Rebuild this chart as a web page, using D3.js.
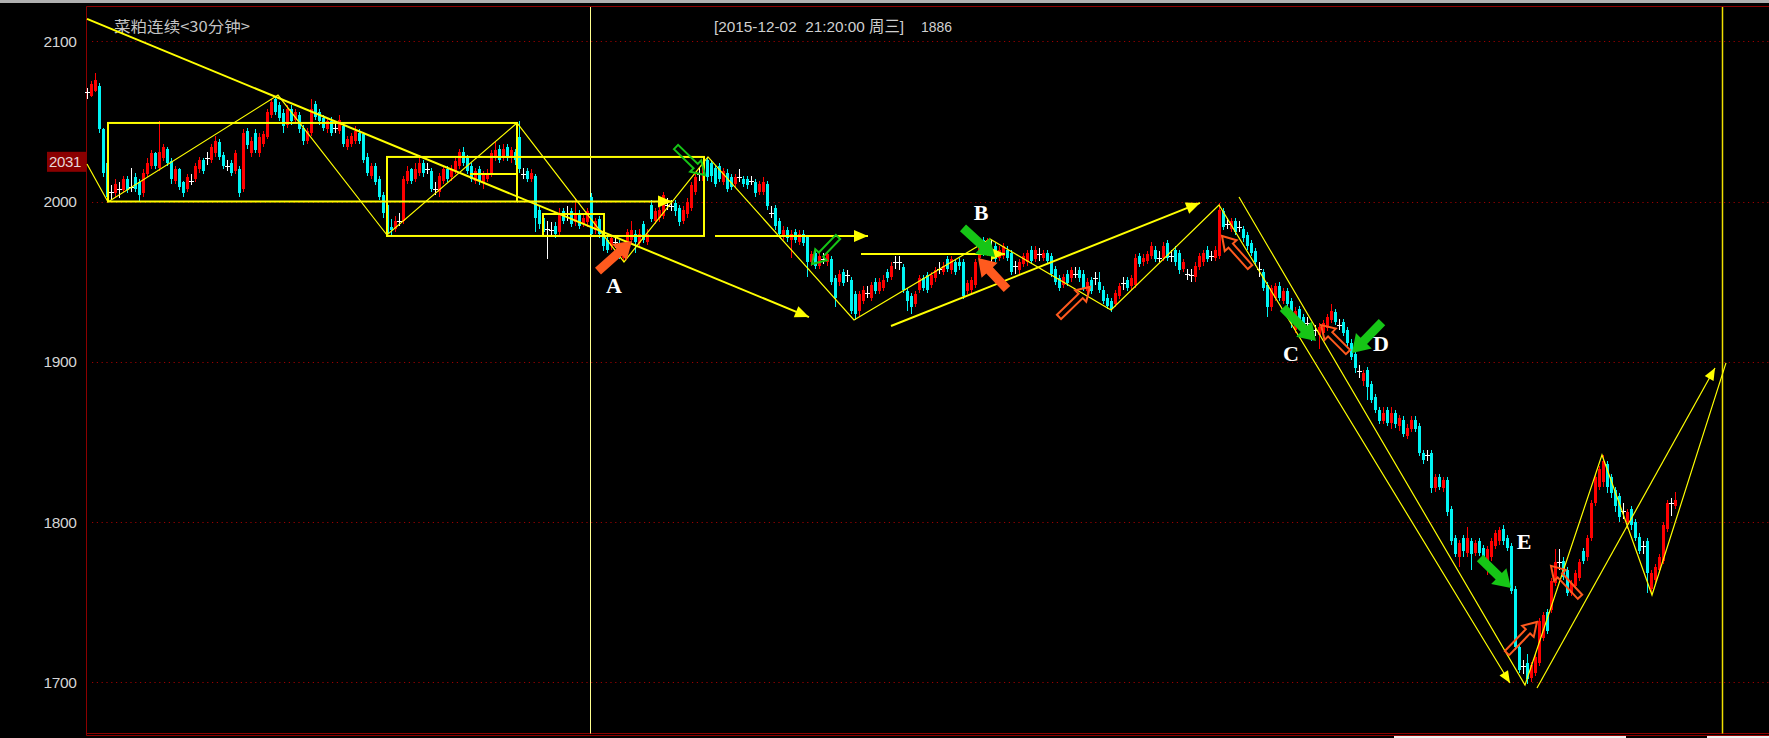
<!DOCTYPE html>
<html><head><meta charset="utf-8">
<script src="https://cdn.jsdelivr.net/npm/d3@7"></script>
<style>html,body{margin:0;padding:0;background:#000;overflow:hidden}</style>
</head><body><svg id="c" width="1769" height="738"></svg>
<script>
// ---------------- DATA ----------------
const opens=[
2068,2066,2069,2072,2045,2024,2006,2005,2008,2007,
2014,2009,2015,2012,2005,2017,2022,2030,2021,2027,
2033,2025,2013,2020,2012,2008,2013,2014,2020,2026,
2027,2026,2030,2037,2029,2022,2024,2019,2020,2008,
2044,2030,2043,2030,2036,2040,2054,2064,2060,2055,
2048,2058,2051,2054,2046,2038,2043,2061,2056,2052,
2045,2050,2046,2044,2047,2034,2036,2038,2043,2042,
2028,2016,2022,2014,2004,1998,1984,1983,1988,1988,
2013,2020,2014,2018,2024,2020,2019,2008,2006,2013,
2020,2015,2019,2022,2031,2027,2022,2013,2020,2012,
2014,2017,2027,2033,2027,2034,2027,2031,2040,2017,
2019,2014,2016,1995,1990,1983,1982,1985,1981,1994,
1992,1994,1987,1993,1986,1987,2003,1982,1989,1981,
1976,1972,1975,1974,1965,1970,1976,1980,1974,1986,
1975,1998,1988,1990,1991,1998,1997,1999,1996,1988,
1992,1996,2006,2017,2013,2026,2024,2021,2022,2012,
2018,2015,2011,2015,2014,2014,2013,2012,2006,2006,
2011,1993,1996,1988,1978,1982,1976,1981,1975,1980,
1978,1962,1968,1960,1964,1962,1964,1952,1950,1956,
1954,1951,1942,1932,1938,1943,1940,1950,1944,1946,
1956,1953,1962,1962,1959,1944,1941,1936,1945,1952,
1954,1948,1952,1958,1956,1964,1957,1962,1962,1962,
1944,1945,1948,1965,1976,1968,1970,1972,1965,1966,
1970,1968,1960,1957,1961,1962,1970,1964,1967,1965,
1968,1966,1958,1952,1948,1955,1952,1955,1957,1955,
1944,1951,1952,1950,1945,1940,1938,1936,1941,1949,
1951,1947,1948,1966,1962,1963,1966,1970,1965,1965,
1974,1966,1970,1968,1958,1955,1954,1953,1959,1962,
1970,1966,1965,1966,1994,1986,1983,1988,1984,1983,
1979,1974,1969,1958,1956,1948,1934,1940,1947,1938,
1944,1938,1920,1933,1928,1924,1922,1920,1917,1918,
1921,1926,1931,1923,1925,1920,1912,1905,1894,1888,
1895,1886,1878,1870,1863,1870,1862,1868,1860,1864,
1854,1858,1864,1860,1843,1842,1843,1821,1828,1821,
1826,1808,1790,1778,1790,1781,1788,1781,1788,1784,
1776,1778,1785,1788,1796,1790,1785,1758,1722,1710,
1712,1703,1706,1712,1728,1744,1745,1762,1775,1776,
1770,1756,1760,1765,1782,1778,1790,1812,1822,1825,
1836,1828,1820,1816,1807,1800,1808,1800,1791,1785,
1788,1758,1764,1770,1776,1796,1812,1810];
const highs=[
2071,2075,2080,2074,2046,2026,2010,2014,2012,2016,
2016,2021,2018,2014,2020,2027,2032,2031,2050,2036,
2034,2027,2022,2021,2013,2017,2017,2024,2028,2027,
2031,2036,2041,2039,2031,2026,2026,2032,2022,2045,
2046,2040,2045,2043,2044,2058,2064,2066,2062,2058,
2060,2060,2058,2056,2048,2046,2064,2063,2058,2054,
2052,2053,2050,2054,2049,2041,2043,2047,2045,2043,
2030,2024,2024,2016,2006,2000,1989,1991,1993,2016,
2022,2021,2024,2029,2026,2024,2021,2012,2018,2022,
2022,2023,2027,2033,2034,2029,2024,2021,2022,2019,
2020,2032,2037,2035,2036,2036,2034,2033,2050,2021,
2021,2020,2017,1998,1991,1988,1987,1987,1996,1996,
1997,1996,2002,1995,1993,1996,2005,1990,1991,1983,
1978,1979,1979,1976,1972,1983,1988,1982,1983,1988,
1983,2001,1996,1997,2006,2002,2001,2001,1998,1997,
2002,2012,2017,2021,2024,2028,2026,2023,2024,2021,
2020,2017,2017,2020,2016,2016,2016,2014,2013,2015,
2013,1997,1998,1990,1985,1984,1982,1983,1982,1982,
1979,1969,1970,1968,1968,1969,1966,1954,1957,1958,
1957,1953,1944,1944,1947,1947,1950,1952,1952,1954,
1958,1962,1966,1966,1961,1946,1943,1944,1954,1954,
1956,1956,1959,1962,1962,1966,1966,1964,1965,1964,
1951,1953,1964,1975,1978,1977,1976,1974,1972,1974,
1972,1970,1963,1964,1968,1970,1972,1972,1971,1970,
1970,1968,1960,1954,1955,1957,1959,1959,1959,1957,
1952,1953,1956,1956,1947,1942,1940,1945,1949,1953,
1953,1954,1967,1968,1967,1969,1975,1972,1969,1975,
1976,1970,1972,1970,1964,1958,1958,1962,1968,1970,
1972,1969,1972,1999,1996,1990,1990,1990,1988,1985,
1981,1976,1971,1962,1958,1950,1948,1949,1950,1946,
1946,1940,1934,1935,1930,1928,1924,1923,1924,1926,
1930,1936,1933,1927,1927,1922,1914,1907,1898,1895,
1897,1888,1880,1872,1872,1872,1872,1870,1867,1866,
1861,1866,1866,1862,1845,1845,1845,1830,1830,1828,
1828,1810,1792,1789,1792,1797,1790,1789,1790,1786,
1785,1790,1795,1797,1798,1792,1787,1760,1724,1714,
1718,1713,1718,1740,1744,1746,1765,1783,1783,1778,
1772,1764,1770,1777,1784,1792,1814,1830,1835,1842,
1838,1830,1822,1818,1812,1808,1810,1802,1793,1788,
1790,1770,1774,1780,1800,1814,1815,1819];
const lows=[
2064,2065,2068,2043,2015,2000,2001,2003,2002,2006,
2005,2006,2006,2000,2003,2015,2020,2020,2019,2025,
2022,2011,2011,2007,2003,2006,2010,2012,2018,2017,
2023,2024,2028,2026,2020,2019,2016,2017,2003,2006,
2033,2028,2030,2028,2034,2039,2052,2054,2050,2043,
2046,2048,2049,2043,2035,2036,2041,2051,2048,2044,
2043,2041,2043,2042,2034,2032,2034,2036,2036,2024,
2016,2014,2010,2001,1990,1978,1979,1981,1985,1986,
2011,2011,2012,2016,2015,2017,2006,2004,2003,2011,
2012,2013,2017,2020,2022,2017,2012,2011,2010,2008,
2012,2015,2025,2024,2025,2025,2024,2023,2018,2014,
2012,2012,1981,1983,1979,1964,1978,1977,1979,1986,
1988,1984,1985,1983,1984,1984,1978,1980,1977,1969,
1968,1970,1971,1964,1962,1968,1974,1968,1972,1974,
1973,1987,1986,1987,1989,1995,1994,1991,1985,1986,
1990,1994,2004,2013,2011,2013,2012,2009,2012,2010,
2006,2007,2009,2012,2009,2008,2010,2003,2004,2004,
1995,1990,1982,1978,1976,1975,1965,1974,1973,1972,
1953,1960,1958,1958,1961,1960,1948,1934,1947,1947,
1950,1930,1926,1928,1936,1940,1938,1942,1942,1944,
1950,1951,1958,1957,1943,1932,1930,1934,1943,1944,
1943,1946,1950,1955,1954,1956,1955,1954,1957,1939,
1942,1943,1946,1963,1966,1966,1962,1962,1963,1964,
1963,1954,1955,1955,1959,1960,1961,1962,1963,1963,
1961,1953,1948,1944,1946,1947,1950,1952,1950,1944,
1942,1942,1948,1943,1936,1933,1931,1934,1939,1945,
1944,1945,1946,1959,1960,1961,1964,1962,1962,1963,
1963,1962,1960,1955,1956,1951,1950,1950,1957,1960,
1962,1963,1963,1964,1982,1983,1981,1979,1981,1975,
1970,1966,1960,1953,1944,1928,1932,1938,1938,1936,
1934,1921,1918,1923,1918,1920,1913,1916,1908,1916,
1919,1924,1923,1920,1916,1910,1901,1893,1890,1885,
1876,1874,1868,1861,1861,1860,1858,1859,1857,1853,
1852,1856,1856,1841,1836,1838,1818,1819,1820,1819,
1804,1786,1778,1772,1778,1778,1770,1779,1779,1774,
1767,1776,1783,1786,1786,1782,1755,1720,1706,1705,
1699,1700,1704,1710,1726,1730,1743,1760,1770,1764,
1754,1754,1758,1763,1774,1776,1788,1810,1820,1822,
1818,1815,1806,1800,1802,1796,1795,1788,1780,1780,
1756,1756,1762,1768,1774,1794,1804,1808];
const closes=[
2068,2073,2076,2045,2018,2003,2006,2011,2008,2014,
2007,2009,2008,2004,2018,2024,2030,2022,2031,2034,
2024,2014,2020,2009,2005,2015,2013,2022,2026,2019,
2027,2034,2038,2028,2022,2022,2018,2030,2005,2043,
2035,2038,2032,2040,2042,2056,2062,2056,2052,2047,
2058,2050,2056,2045,2038,2044,2058,2053,2050,2046,
2050,2043,2046,2051,2036,2039,2041,2044,2038,2026,
2018,2022,2012,2003,1993,1980,1982,1988,1988,2014,
2019,2013,2020,2024,2018,2020,2008,2008,2016,2020,
2014,2020,2025,2031,2024,2019,2014,2019,2013,2017,
2018,2030,2032,2026,2033,2027,2032,2026,2020,2017,
2014,2018,1990,1986,1981,1983,1982,1980,1993,1988,
1992,1986,1993,1985,1990,1994,1980,1988,1980,1972,
1970,1977,1975,1966,1970,1981,1982,1975,1980,1976,
1980,1989,1994,1995,2004,1998,1997,1994,1987,1995,
2000,2010,2015,2017,2022,2015,2016,2011,2014,2019,
2008,2009,2015,2015,2011,2010,2013,2005,2011,2012,
1997,1993,1985,1980,1982,1977,1980,1976,1980,1974,
1962,1967,1960,1966,1964,1967,1950,1940,1955,1949,
1954,1932,1930,1942,1945,1943,1948,1944,1950,1951,
1952,1960,1962,1962,1945,1938,1934,1942,1952,1946,
1945,1954,1957,1958,1960,1958,1964,1956,1960,1941,
1949,1951,1962,1973,1968,1974,1970,1964,1970,1972,
1965,1956,1960,1962,1966,1968,1963,1970,1967,1968,
1963,1955,1950,1946,1953,1949,1957,1955,1952,1946,
1950,1944,1952,1945,1938,1935,1933,1943,1947,1949,
1946,1952,1965,1961,1965,1967,1972,1964,1965,1972,
1965,1966,1962,1957,1962,1955,1954,1960,1966,1968,
1964,1966,1970,1995,1984,1986,1988,1981,1984,1977,
1972,1968,1962,1958,1946,1934,1946,1947,1940,1944,
1936,1925,1932,1925,1920,1924,1915,1920,1922,1924,
1928,1932,1925,1923,1918,1912,1903,1896,1894,1893,
1884,1876,1870,1863,1868,1862,1868,1861,1865,1855,
1859,1864,1858,1843,1839,1842,1821,1828,1822,1826,
1806,1788,1780,1787,1782,1790,1780,1787,1781,1776,
1783,1788,1793,1795,1788,1784,1757,1722,1708,1710,
1702,1711,1716,1738,1742,1732,1763,1775,1775,1766,
1756,1762,1768,1775,1776,1790,1812,1828,1833,1838,
1822,1818,1810,1803,1807,1806,1798,1790,1782,1785,
1768,1768,1772,1778,1798,1812,1812,1814];

const yTicks=[1700,1800,1900,2000,2100];
const titleText="菜粕连续<30分钟>";
const headerText="[2015-12-02  21:20:00 周三]";
const headerValue="1886";
const lastPrice=2031;

// annotation anchors: [bar index, price]
const trendLine=[[0,2113.9],[180.5,1927.9]];
const zigzagMain=[[0,2023.4],[5.25,1999.7],[47.75,2066.4],[75,1979.1],[107.5,2049],[134.25,1962.3],[155.25,2027.8],[191.75,1926.1],[225.75,1976.6],[256,1932.3],[283,1997.8],[355.75,1699.6]];
const zigzagRight=[[288,2002.8],[359.5,1698.4],[378.75,1841.9],[391.25,1754.5],[409.75,1899.3]];
const zigzagUp=[[362.5,1696.5],[407,1896.1]];
const boxes=[[5.25,2000,107.5,2049],[75,1978.5,154.25,2027.8],[114,1978.5,129.25,1992.2]];
const plainSegs=[[[95.75,2017.2],[107.5,2017.2]]];
const arrowSegs=[[[107.5,2000],[146.25,2000]],[[157,1978.5],[195.25,1978.5]],[[193.5,1967.25],[229.5,1967.25]],[[201,1922.3],[278.25,1999.1]]];
const cursorLines=[125.75,408.75];
// block arrows: tail, tip, kind
const blockArrows=[
 [[127.75,1956.6],[136.25,1975.4],"os"],
 [[147.25,2034.0],[154.5,2016.5],"gh"],
 [[187.75,1977.9],[181.25,1961.0],"gh"],
 [[219,1983.5],[227,1965.4],"gs"],
 [[230,1945.4],[222.75,1964.8],"os"],
 [[243,1928.0],[250.75,1946.7],"oh"],
 [[290.75,1959.1],[283.75,1978.5],"oh"],
 [[299,1933.6],[307.25,1913.0],"gs"],
 [[315.25,1906.1],[308.5,1922.9],"oh"],
 [[323.75,1924.8],[316.25,1905.5],"gs"],
 [[348.25,1777.6],[356,1758.9],"gs"],
 [[355,1718.3],[362.5,1737.7],"oh"],
 [[373.25,1753.4],[366,1772.7],"oh"]];
const letters=[["A",131.75,1947.9],["B",223.5,1993.4],["C",301,1905.5],["D",323.5,1911.7],["E",359.25,1788.2]];

// ---------------- CHART ----------------
const W=1769,H=738,L=86.5,T=6.5,B=733.5;
const svg=d3.select("#c");
svg.append("rect").attr("width",W).attr("height",H).attr("fill","#000");
const x=d3.scaleLinear().domain([0,opens.length-1]).range([87,1675]);
const y=d3.scaleLinear().domain([1700,2100]).range([682.4,41.2]);
const P=d=>[x(d[0]),y(d[1])];

// top bar & frame
svg.append("rect").attr("x",0).attr("y",0).attr("width",W).attr("height",3).attr("fill","#b0b0b0");
const frame=svg.append("g").attr("stroke","#8c0000").attr("stroke-width",1).attr("fill","none");
frame.append("line").attr("x1",L).attr("x2",W).attr("y1",T).attr("y2",T);
frame.append("line").attr("x1",L).attr("x2",L).attr("y1",T).attr("y2",B+2);
frame.append("line").attr("x1",L).attr("x2",W).attr("y1",B).attr("y2",B);
frame.append("line").attr("x1",L).attr("x2",W).attr("y1",B+2).attr("y2",B+2);
svg.append("rect").attr("x",1394).attr("y",736).attr("width",232).attr("height",2).attr("fill","#f0f0f0");
svg.append("rect").attr("x",1707).attr("y",736).attr("width",62).attr("height",2).attr("fill","#f0f0f0");

// grid
svg.append("g").selectAll("line").data(yTicks).join("line")
 .attr("x1",92).attr("x2",W).attr("y1",d=>Math.round(y(d))+0.5).attr("y2",d=>Math.round(y(d))+0.5)
 .attr("stroke","#9a0000").attr("stroke-width",1).attr("stroke-dasharray","1.2,3.6");

// y axis
const ax=svg.append("g").attr("transform",`translate(${L},0)`)
 .call(d3.axisLeft(y).tickValues(yTicks).tickSize(0).tickPadding(10).tickFormat(d3.format("d")));
ax.select(".domain").remove();
ax.selectAll("text").attr("fill","#d4d4d4").attr("font-family","Liberation Sans, Arial, sans-serif")
 .attr("font-size",15.5).attr("letter-spacing","-0.4");

// last price label
svg.append("rect").attr("x",47).attr("y",y(lastPrice)).attr("width",L-47).attr("height",20).attr("fill","#8a0000");
svg.append("text").attr("x",65).attr("y",y(lastPrice)+10).attr("dy","0.36em").attr("text-anchor","middle")
 .attr("fill","#e8d8d8").attr("font-family","Liberation Sans, Arial, sans-serif").attr("font-size",15)
 .attr("letter-spacing","-0.4").text(lastPrice);

// titles
svg.append("text").attr("x",114).attr("y",32).attr("fill","#c4c4c4")
 .attr("font-family","Noto Sans CJK SC, sans-serif").attr("font-size",15)
 .attr("textLength",136).attr("lengthAdjust","spacingAndGlyphs").text(titleText);
svg.append("text").attr("x",714).attr("y",32).attr("fill","#d0d0d0")
 .attr("font-family","Liberation Sans, Noto Sans CJK SC, sans-serif").attr("font-size",15.5)
 .attr("textLength",190).attr("lengthAdjust","spacingAndGlyphs").attr("xml:space","preserve").text(headerText);
svg.append("text").attr("x",921).attr("y",32).attr("fill","#d0d0d0")
 .attr("font-family","Liberation Sans, sans-serif").attr("font-size",15.5)
 .attr("textLength",31).attr("lengthAdjust","spacingAndGlyphs").text(headerValue);

// cursor lines
svg.append("line").attr("x1",Math.round(x(cursorLines[0]))+0.5).attr("x2",Math.round(x(cursorLines[0]))+0.5)
 .attr("y1",T+0.5).attr("y2",B).attr("stroke","#ffff90").attr("stroke-width",1);
svg.append("line").attr("x1",Math.round(x(cursorLines[1]))+0.5).attr("x2",Math.round(x(cursorLines[1]))+0.5)
 .attr("y1",T+0.5).attr("y2",B).attr("stroke","#f0e000").attr("stroke-width",1.5);

// candles
const cg=svg.append("g");
const CYAN="#00f4f4",RED="#ff0000";
for(let i=0;i<opens.length;i++){
 const o=opens[i],c=closes[i],h=highs[i],l=lows[i];
 const cx=Math.round(x(i))+0.5;
 const top=Math.round(y(Math.max(o,c))),bot=Math.round(y(Math.min(o,c)));
 const yh=Math.round(y(h)),yl=Math.round(y(l));
 if(c!==o){
  const col=c<o?CYAN:RED;
  cg.append("line").attr("x1",cx).attr("x2",cx).attr("y1",yh).attr("y2",yl).attr("stroke",col);
  cg.append("rect").attr("x",cx-1.5).attr("y",top).attr("width",3).attr("height",Math.max(1,bot-top)).attr("fill",col);
 }else{
  cg.append("line").attr("x1",cx).attr("x2",cx).attr("y1",yh).attr("y2",yl).attr("stroke","#ffffff");
  cg.append("line").attr("x1",cx-2.5).attr("x2",cx+2.5).attr("y1",top+0.5).attr("y2",top+0.5).attr("stroke","#ffffff");
 }
}

// yellow annotations
const YEL="#ffff00";
const ag=svg.append("g");
const line=d3.line().x(d=>x(d[0])).y(d=>y(d[1]));
function head(a,b,len,hw){
 const [x0,y0]=P(a),[x1,y1]=P(b);const d=Math.hypot(x1-x0,y1-y0);const ux=(x1-x0)/d,uy=(y1-y0)/d;
 const bx=x1-ux*len,by=y1-uy*len;
 ag.append("path").attr("d",`M${x1},${y1}L${bx-uy*hw},${by+ux*hw}L${bx+uy*hw},${by-ux*hw}Z`).attr("fill",YEL);
}
ag.append("path").attr("d",line(trendLine)).attr("stroke",YEL).attr("stroke-width",2).attr("fill","none");
head(trendLine[0],trendLine[1],14,6);
ag.append("path").attr("d",line(zigzagMain)).attr("stroke",YEL).attr("stroke-width",1.2).attr("fill","none");
head(zigzagMain[10],zigzagMain[11],12,5);
ag.append("path").attr("d",line(zigzagRight)).attr("stroke",YEL).attr("stroke-width",1.2).attr("fill","none");
ag.append("path").attr("d",line(zigzagUp)).attr("stroke",YEL).attr("stroke-width",1.2).attr("fill","none");
head(zigzagUp[0],zigzagUp[1],12,5);
boxes.forEach(b=>{
 ag.append("rect").attr("x",x(b[0])).attr("y",y(b[3])).attr("width",x(b[2])-x(b[0])).attr("height",y(b[1])-y(b[3]))
  .attr("fill","none").attr("stroke",YEL).attr("stroke-width",2);
});
plainSegs.forEach(s=>ag.append("path").attr("d",line(s)).attr("stroke",YEL).attr("stroke-width",2));
arrowSegs.forEach(s=>{
 ag.append("path").attr("d",line(s)).attr("stroke",YEL).attr("stroke-width",2).attr("fill","none");
 head(s[0],s[1],14,6);
});

// block arrows
const bg=svg.append("g");
blockArrows.forEach(([a,b,k])=>{
 const [x0,y0]=P(a),[x1,y1]=P(b);const d=Math.hypot(x1-x0,y1-y0);const ux=(x1-x0)/d,uy=(y1-y0)/d;
 const nx=-uy,ny=ux;const solid=k[1]==="s";
 const w1=solid?4.5:3,w2=solid?11:8,hl=solid?17:13;
 const bx=x1-ux*hl,by=y1-uy*hl;
 const pts=[[x0+nx*w1,y0+ny*w1],[bx+nx*w1,by+ny*w1],[bx+nx*w2,by+ny*w2],[x1,y1],[bx-nx*w2,by-ny*w2],[bx-nx*w1,by-ny*w1],[x0-nx*w1,y0-ny*w1]];
 const col=k[0]==="o"?"#ff5a1e":"#16c516";
 const p=bg.append("path").attr("d","M"+pts.map(q=>q.join(",")).join("L")+"Z");
 if(solid)p.attr("fill",col);else p.attr("fill","none").attr("stroke",col).attr("stroke-width",2).attr("stroke-linejoin","miter");
});

// letters
svg.append("g").selectAll("text").data(letters).join("text")
 .attr("x",d=>x(d[1])).attr("y",d=>y(d[2])).attr("dy","0.35em").attr("text-anchor","middle")
 .attr("fill","#ffffff").attr("font-family","Liberation Serif, Times New Roman, serif").attr("font-size",22)
 .attr("font-weight","bold").text(d=>d[0]);
</script></body></html>
